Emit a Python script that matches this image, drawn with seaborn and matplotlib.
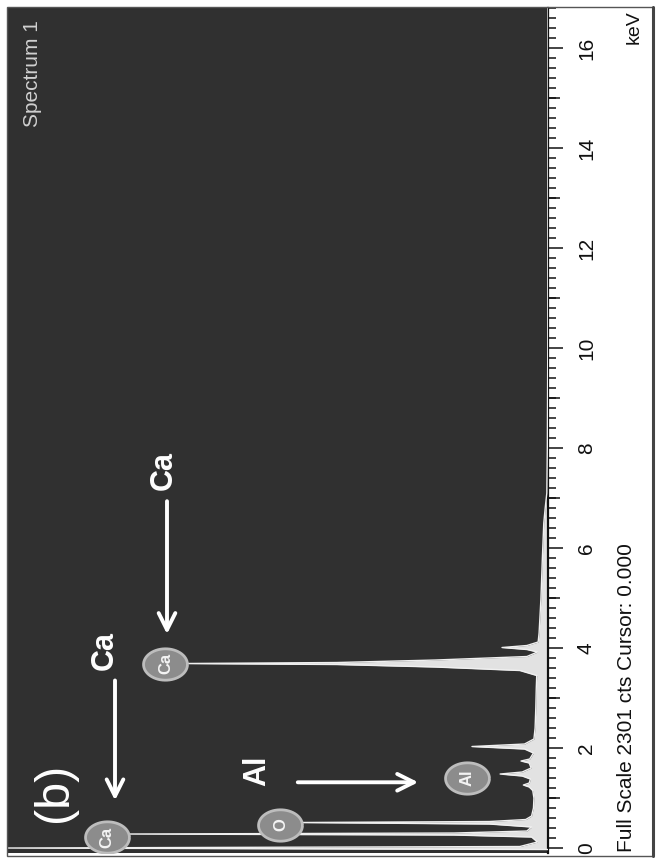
import numpy as np
import matplotlib
matplotlib.use("Agg")
import matplotlib.pyplot as plt
import seaborn as sns
from matplotlib.patches import Rectangle
from matplotlib.path import Path

# ---- data ----
energy_kev = [-0.03, 0.00, 0.03, 0.12, 0.22, 0.26, 0.28, 0.30, 0.34, 0.42,
              0.48, 0.51, 0.53, 0.57, 0.64, 0.80, 1.00, 1.15, 1.22, 1.26,
              1.30, 1.38, 1.44, 1.48, 1.52, 1.60, 1.70, 1.74, 1.78, 1.90,
              1.98, 2.03, 2.08, 2.18, 2.40, 2.80, 3.20, 3.45, 3.55, 3.62,
              3.67, 3.69, 3.71, 3.76, 3.83, 3.92, 3.97, 4.01, 4.05, 4.12,
              4.30, 5.00, 5.80, 6.50, 6.80, 7.10, 8.00, 9.00, 10.0, 16.8]
counts = [0, 2301, 120, 45, 70, 400, 1802, 400, 90, 70,
          250, 1069, 250, 95, 70, 62, 60, 65, 80, 105,
          80, 75, 110, 204, 110, 72, 80, 115, 78, 62,
          100, 324, 100, 60, 55, 52, 50, 48, 120, 480,
          900, 1559, 900, 480, 90, 45, 90, 196, 90, 42,
          38, 30, 24, 18, 12, 5, 3, 2, 1, 0]

marker_labels = ["Ca", "O", "Al", "Ca"]
marker_kev = [0.22, 0.47, 1.41, 3.69]
marker_counts = [1880, 1140, 345, 1630]

tick_kev = [0, 2, 4, 6, 8, 10, 12, 14, 16]
full_scale = 2301
footer = "Full Scale 2301 cts Cursor: 0.000"
panel_label = "(b)"
spectrum_name = "Spectrum 1"

# ---- style ----
sns.set_style("white")
plt.rcParams["font.family"] = ["Liberation Sans", "DejaVu Sans"]

W, H = 656, 858
fig = plt.figure(figsize=(W / 100, H / 100), dpi=100)
fig.patch.set_facecolor("white")

def fx(x):
    return x / W

def fy(y):
    return 1 - y / H

ax_l, ax_r, ax_t, ax_b = 8, 548, 8, 853
ax = fig.add_axes([fx(ax_l), fy(ax_b), fx(ax_r - ax_l), (ax_b - ax_t) / H])
ax.set_facecolor("#303030")

px_per_kev = 50.2
kev_top = (848 - ax_t) / px_per_kev
kev_bot = (848 - ax_b) / px_per_kev

# spectrum
ax.fill_betweenx(energy_kev, 0, counts, color="#e2e2e2", lw=0, zorder=2)
sns.lineplot(x=counts, y=energy_kev, orient="y", sort=False, estimator=None,
             color="#f0f0f0", lw=1.0, ax=ax, zorder=3)

# element markers (slightly stretched discs, as in the picture)
t = np.linspace(0, 2 * np.pi, 60)
ellipse = Path(np.column_stack([1.4 * np.cos(t), np.sin(t)]))
sns.scatterplot(x=marker_counts, y=marker_kev, s=1000, marker=ellipse,
                color="#8c8c8c", edgecolor="#bdbdbd", linewidth=2.0,
                ax=ax, zorder=5, legend=False)
for lab, c, e in zip(marker_labels, marker_counts, marker_kev):
    ax.text(c, e, lab, rotation=90, ha="center", va="center", fontsize=12,
            color="#f4f4f4", fontweight="bold", zorder=6)

ax.set_ylim(kev_bot, kev_top)
ax.set_xlim(full_scale, 0)

# annotations (text + arrows)
cpp = full_scale / (ax_r - ax_l)  # counts per pixel

def dc(x):
    return (ax_r - x) * cpp

def dk(y):
    return (848 - y) / px_per_kev

arrow_kw = dict(arrowstyle="->", color="white", lw=2.8, mutation_scale=30)
lab_kw = dict(rotation=90, ha="center", va="center", fontsize=22,
              color="white", fontweight="bold", zorder=7)
ax.text(dc(164), dk(469), "Ca", **lab_kw)
ax.annotate("", xy=(dc(167), dk(636)), xytext=(dc(167), dk(497)),
            arrowprops=arrow_kw, zorder=7)
ax.text(dc(105), dk(650), "Ca", **lab_kw)
ax.annotate("", xy=(dc(115), dk(803)), xytext=(dc(115), dk(677)),
            arrowprops=arrow_kw, zorder=7)
ax.text(dc(257), dk(770), "Al", **lab_kw)
ax.annotate("", xy=(dc(421), dk(782)), xytext=(dc(295), dk(782)),
            arrowprops=arrow_kw, zorder=7)

fig.text(fx(54), fy(792), panel_label, rotation=90, ha="center", va="center",
         fontsize=35, color="white")
fig.text(fx(32), fy(20), spectrum_name, rotation=90, ha="center", va="top",
         fontsize=15, color="#d0d0d0")

# axes / ticks
for s in ["left", "top", "bottom"]:
    ax.spines[s].set_visible(False)
ax.spines["right"].set_color("#111111")
ax.spines["right"].set_linewidth(1.6)
ax.set_xticks([])
ax.yaxis.tick_right()
ax.set_yticks(tick_kev)
ax.set_yticklabels([str(v) for v in tick_kev])
ax.set_yticks(np.arange(0, 16.81, 0.2), minor=True)
ax.tick_params(axis="y", which="major", length=10.8, width=1.1, pad=10,
               labelsize=15, direction="out", colors="#111111")
ax.tick_params(axis="y", which="minor", length=5.8, width=1.1,
               direction="out", colors="#111111")
for lbl in ax.get_yticklabels():
    lbl.set_rotation(90)
    lbl.set_va("center")
    lbl.set_ha("left")

sec = ax.secondary_yaxis("right")
sec.set_yticks([1, 3, 5, 7, 9, 11, 13, 15])
sec.set_yticklabels([])
sec.tick_params(axis="y", length=8.3, width=1.1, direction="out", colors="#111111")
sec.spines["right"].set_visible(False)

# figure texts
fig.text(fx(634), fy(27), "keV", rotation=90, ha="center", va="center",
         fontsize=14, color="#111111")
fig.text(fx(627), fy(852), footer, rotation=90, ha="center", va="bottom",
         fontsize=15, color="#111111")

# outer frame
fig.patches.append(Rectangle((fx(7), fy(856)), fx(653 - 7), (856 - 7) / H,
                             transform=fig.transFigure, fill=False,
                             edgecolor="#555555", lw=1.0))
fig.lines.append(plt.Line2D([fx(653), fx(653)], [fy(856), fy(7)],
                            transform=fig.transFigure, color="#444444", lw=2.2))

fig.savefig("out.png", dpi=100, facecolor="white")
